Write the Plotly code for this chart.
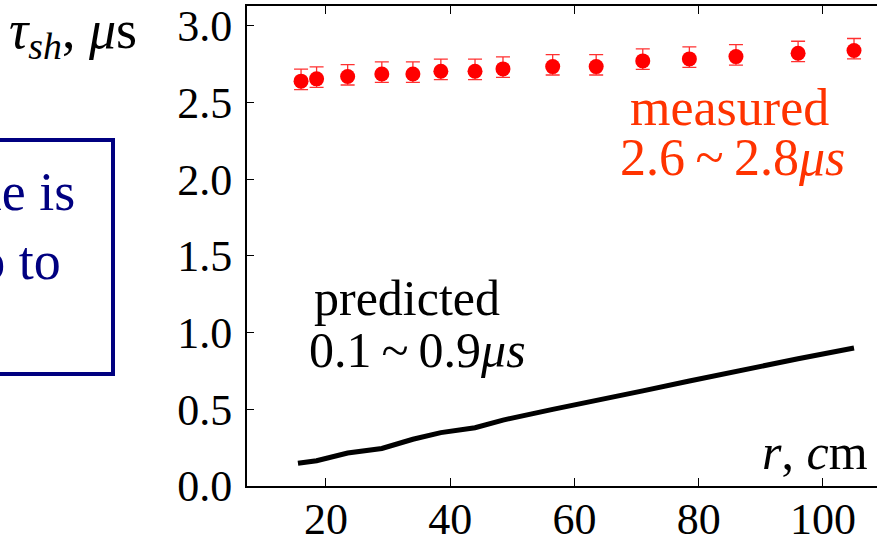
import plotly.graph_objects as go

# ---- data ----
r_cm = [16, 18.5, 23.5, 29, 34, 38.5, 44, 48.5, 56.5, 63.5, 71, 78.5, 86, 96, 105]
tau_measured = [2.64, 2.655, 2.67, 2.687, 2.687, 2.705, 2.705, 2.72, 2.735, 2.735, 2.772, 2.785, 2.80, 2.822, 2.84]
err_plus = [0.078] * 15
err_minus = [0.055] * 15
r_pred = [15.5, 18.5, 23.5, 29, 34, 38.5, 44, 48.5, 56.5, 63.5, 71, 78.5, 86, 96, 105]
tau_predicted = [0.148, 0.165, 0.215, 0.245, 0.305, 0.348, 0.38, 0.43, 0.50, 0.555, 0.62, 0.685, 0.75, 0.83, 0.90]
x_ticks = [20, 40, 60, 80, 100]
y_ticks = [0.0, 0.5, 1.0, 1.5, 2.0, 2.5, 3.0]

SERIF = "Liberation Serif, Times New Roman, serif"
W, H = 877, 540
L, R, T, B = 247, 877, 6, 486


def px(x):
    return (x - L) / (R - L)


def py(y):
    return (B - y) / (B - T)


fig = go.Figure()
fig.add_trace(go.Scatter(
    x=r_pred, y=tau_predicted, mode="lines",
    line=dict(color="black", width=5), showlegend=False, cliponaxis=False))
fig.add_trace(go.Scatter(
    x=r_cm, y=tau_measured, mode="markers",
    marker=dict(color="#ff0000", size=15, line=dict(width=0)),
    error_y=dict(type="data", symmetric=False, array=err_plus, arrayminus=err_minus,
                 color="#ff3030", thickness=1.3, width=7),
    showlegend=False, cliponaxis=False))

ann = []
def add(text, x, y, size, color="black", xanchor="center"):
    ann.append(dict(text=text, x=px(x), y=py(y), xref="paper", yref="paper",
                    xanchor=xanchor, yanchor="middle", showarrow=False,
                    font=dict(family=SERIF, size=size, color=color)))

TS = "\u2009"
add("<i>τ</i><sub><i>sh</i></sub>, <i>μ</i>s", 7, 33, 54, xanchor="left")
add("predicted", 407, 298, 50)
add("0.1" + TS + "~" + TS + "0.9<i>μs</i>", 417, 350, 50)
add("measured", 729, 107, 52, color="#ff3300")
add("2.6" + TS + "~" + TS + "2.8<i>μs</i>", 732, 157, 52, color="#ff3300")
add("<i>r</i>, <i>c</i>m", 870, 452, 50, xanchor="right")
add("The measured time is", 77, 192, 54, color="#000080", xanchor="right")
add("longer, by two to", 63, 261, 54, color="#000080", xanchor="right")

fig.update_layout(
    width=W, height=H,
    margin=dict(l=L, r=W - R, t=T, b=H - B, autoexpand=False),
    paper_bgcolor="white", plot_bgcolor="white",
    font=dict(family=SERIF, color="black"),
    annotations=ann,
    shapes=[dict(type="rect", xref="paper", yref="paper",
                 x0=px(-50), x1=px(113), y0=py(374), y1=py(140),
                 line=dict(color="#000080", width=4))],
    xaxis=dict(range=[7.3, 108.7], tickvals=x_ticks, ticks="inside", ticklen=8,
               tickwidth=1.3, tickcolor="black", showline=True, linecolor="black",
               linewidth=2, mirror="ticks", showgrid=False, zeroline=False,
               automargin=False,
               tickfont=dict(family=SERIF, size=44), ticklabelstandoff=-7),
    yaxis=dict(range=[0, 3.13], tickvals=y_ticks, tickformat=".1f", ticks="inside",
               ticklen=7, tickwidth=1.3, tickcolor="black", showline=True,
               linecolor="black", linewidth=2, mirror=False, showgrid=False,
               automargin=False,
               zeroline=False, tickfont=dict(family=SERIF, size=44), ticklabelstandoff=4),
)

fig.write_html("out.html", config={"displayModeBar": False},
               post_script="document.body.style.margin='0';document.body.style.overflow='hidden';")
